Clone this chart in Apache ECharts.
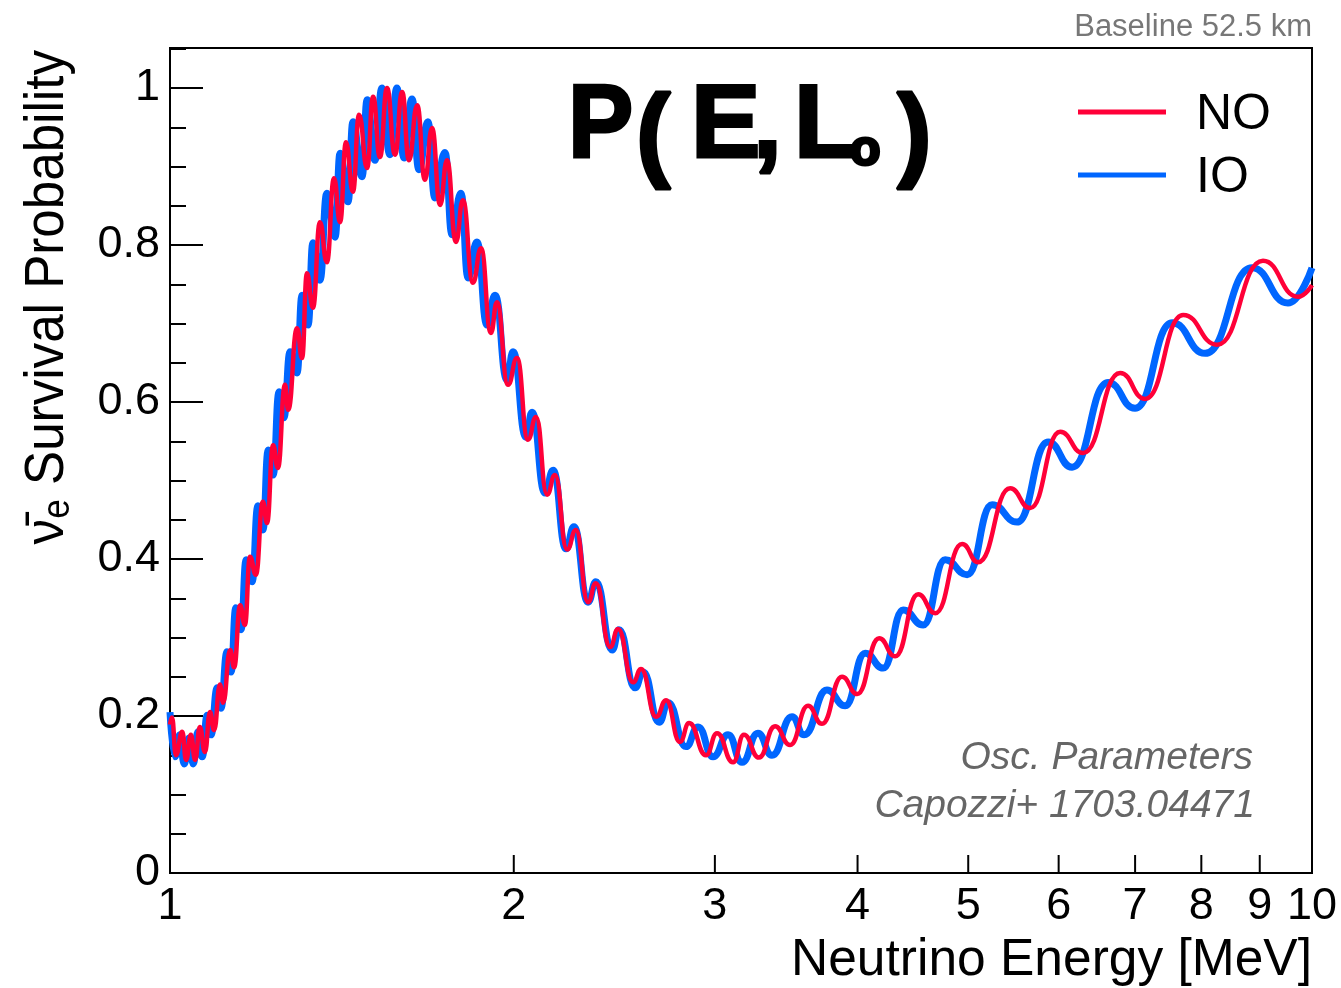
<!DOCTYPE html>
<html>
<head>
<meta charset="utf-8">
<script src="https://cdn.jsdelivr.net/npm/echarts@6/dist/echarts.min.js"></script>
<style>
html,body{margin:0;padding:0;background:#fff}
#chart{width:1341px;height:988px}
</style>
</head>
<body>
<div id="chart"></div>
<script>
// energy [MeV] and survival probability (peaks and dips)
const energyNO = [1.000,1.004,1.012,1.025,1.033,1.043,1.052,1.062,1.073,1.084,
  1.093,1.106,1.113,1.129,1.138,1.152,1.163,1.175,1.189,1.206,
  1.216,1.231,1.243,1.261,1.269,1.292,1.305,1.318,1.334,1.353,
  1.372,1.392,1.409,1.426,1.446,1.464,1.488,1.506,1.527,1.549,
  1.574,1.597,1.619,1.646,1.672,1.696,1.724,1.748,1.780,1.805,
  1.842,1.872,1.910,1.933,1.977,2.013,2.058,2.092,2.139,2.173,
  2.227,2.267,2.323,2.360,2.429,2.468,2.544,2.585,2.665,2.719,
  2.796,2.848,2.947,3.013,3.112,3.181,3.279,3.387,3.491,3.620,
  3.723,3.877,3.997,4.178,4.315,4.520,4.678,4.939,5.101,5.441,
  5.665,6.018,6.303,6.792,7.143,7.712,8.259,9.059,9.721,10.0]
const probNO = [0.189,0.198,0.150,0.180,0.144,0.176,0.144,0.186,0.154,0.205,
  0.182,0.240,0.217,0.284,0.262,0.341,0.316,0.403,0.380,0.473,
  0.446,0.545,0.516,0.622,0.590,0.694,0.656,0.764,0.720,0.829,
  0.778,0.885,0.829,0.931,0.868,0.966,0.898,0.989,0.912,1.000,
  0.915,0.995,0.908,0.978,0.883,0.949,0.851,0.908,0.804,0.857,
  0.752,0.796,0.688,0.727,0.622,0.656,0.552,0.581,0.482,0.507,
  0.412,0.437,0.345,0.369,0.288,0.311,0.243,0.260,0.199,0.220,
  0.167,0.191,0.150,0.178,0.141,0.176,0.147,0.187,0.163,0.213,
  0.190,0.250,0.228,0.299,0.276,0.355,0.331,0.419,0.396,0.490,
  0.465,0.562,0.535,0.637,0.604,0.711,0.673,0.780,0.734,0.749]

const energyIO = [1.000,1.010,1.020,1.029,1.039,1.048,1.058,1.067,1.078,1.086,
  1.100,1.108,1.122,1.131,1.142,1.154,1.166,1.180,1.194,1.206,
  1.219,1.231,1.246,1.258,1.274,1.292,1.305,1.321,1.334,1.353,
  1.372,1.395,1.409,1.432,1.446,1.473,1.488,1.512,1.533,1.558,
  1.580,1.603,1.629,1.652,1.682,1.706,1.741,1.766,1.798,1.824,
  1.857,1.895,1.926,1.973,1.997,2.050,2.075,2.130,2.165,2.222,
  2.258,2.323,2.360,2.439,2.473,2.554,2.596,2.681,2.730,2.830,
  2.900,2.989,3.081,3.169,3.272,3.366,3.505,3.591,3.761,3.901,
  4.062,4.212,4.385,4.566,4.773,4.989,5.247,5.518,5.874,6.165,
  6.629,7.000,7.543,8.062,8.860,9.527,10.0]
const probIO = [0.205,0.148,0.176,0.139,0.172,0.139,0.180,0.148,0.201,0.176,
  0.236,0.210,0.282,0.256,0.338,0.310,0.399,0.371,0.468,0.437,
  0.539,0.507,0.613,0.580,0.664,0.637,0.736,0.698,0.803,0.755,
  0.866,0.810,0.917,0.855,0.957,0.887,0.985,0.908,1.000,0.915,
  1.000,0.911,0.986,0.896,0.957,0.860,0.918,0.813,0.866,0.758,
  0.804,0.698,0.736,0.628,0.664,0.555,0.587,0.484,0.513,0.413,
  0.441,0.345,0.371,0.284,0.310,0.236,0.256,0.192,0.217,0.161,
  0.186,0.148,0.176,0.141,0.178,0.150,0.199,0.176,0.233,0.213,
  0.280,0.261,0.335,0.316,0.399,0.380,0.469,0.447,0.549,0.517,
  0.625,0.592,0.701,0.662,0.771,0.726,0.771]

const xTickValues = [1,2,3,4,5,6,7,8,9,10]
const yMax = 1.051

const RED = '#ff0038'
const BLUE = '#0066ff'
const FONT = 'Liberation Sans'

const chart = echarts.init(document.getElementById('chart'), null, {renderer:'canvas'})

const option = {
  animation: false,
  backgroundColor: '#fff',
  grid: {
    left: 170, right: 29, top: 48, bottom: 115,
    show: true, borderColor: '#000', borderWidth: 2, backgroundColor: 'transparent'
  },
  xAxis: {
    type: 'log', logBase: 10, min: 1, max: 10,
    axisLine: {lineStyle: {color: '#000', width: 2}},
    axisTick: {show: false},
    axisLabel: {show: false},
    splitLine: {show: false}
  },
  yAxis: [
    {
      type: 'value', min: 0, max: yMax, interval: 0.2,
      axisLine: {show: true, lineStyle: {color: '#000', width: 2}},
      axisTick: {inside: true, length: 33, lineStyle: {color: '#000', width: 2}},
      splitLine: {show: false},
      axisLabel: {fontSize: 45, color: '#000', fontFamily: FONT, margin: 10, showMaxLabel: false}
    },
    {
      // small ticks every 0.05
      type: 'value', min: 0, max: yMax, interval: 0.05, position: 'left',
      axisLine: {show: false},
      axisTick: {inside: true, length: 16, lineStyle: {color: '#000', width: 2}},
      splitLine: {show: false},
      axisLabel: {show: false}
    }
  ],
  series: [
    {
      name: 'IO', type: 'line', z: 2,
      data: energyIO.map((e,i)=>[e, probIO[i]]),
      smooth: 0.5, smoothMonotone: 'x', showSymbol: false,
      lineStyle: {color: BLUE, width: 7}, itemStyle: {color: BLUE}
    },
    {
      name: 'NO', type: 'line', z: 3,
      data: energyNO.map((e,i)=>[e, probNO[i]]),
      smooth: 0.5, smoothMonotone: 'x', showSymbol: false,
      lineStyle: {color: RED, width: 4.5}, itemStyle: {color: RED}
    }
  ]
}
chart.setOption(option)

// ticks and labels at 1..10 on the log axis
const y0 = chart.convertToPixel({yAxisIndex: 0}, 0)
const graphics = []
xTickValues.forEach(v=>{
  const x = chart.convertToPixel({xAxisIndex: 0}, v)
  if (v !== 1 && v !== 10) {
    graphics.push({type: 'line', shape: {x1: x, y1: y0, x2: x, y2: y0 - 18},
      style: {stroke: '#000', lineWidth: 2}, z: 10})
  }
  graphics.push({type: 'text', x: x, y: y0 + 34, z: 10,
    style: {text: String(v), font: `45px "${FONT}"`, fill: '#000', align: 'center', verticalAlign: 'middle'}})
})

// legend
;[['NO', RED, 112, 115], ['IO', BLUE, 175, 178]].forEach(([name,color,ly,ty])=>{
  graphics.push({type: 'line', shape: {x1: 1078, y1: ly, x2: 1166, y2: ly},
    style: {stroke: color, lineWidth: 5}, z: 10})
  graphics.push({type: 'text', x: 1196, y: ty, z: 10,
    style: {text: name, font: `50px "${FONT}"`, fill: '#000', align: 'left', verticalAlign: 'middle'}})
})

// axis titles
graphics.push({type: 'text', x: 1312, y: 961, z: 10,
  style: {text: 'Neutrino Energy [MeV]', font: `51.5px "${FONT}"`, fill: '#000', align: 'right', verticalAlign: 'middle'}})
graphics.push({type: 'text', x: 48, y: 50, rotation: Math.PI / 2, scaleX: 0.93, z: 10,
  style: {
    text: '{nu|ν\u0304}{e|e}{t| Survival Probability}',
    align: 'right', verticalAlign: 'middle', fill: '#000',
    rich: {
      nu: {fontSize: 55, fontFamily: FONT},
      e: {fontSize: 38, fontFamily: FONT, padding: [22,0,0,0]},
      t: {fontSize: 55, fontFamily: FONT}
    }
  }})

// big title P(E,Lo)
const titleParts = [['P',568,128,104,0.94],['(',636,138,104,1],['E',691,128,104,1],[',',753,128,104,1],['L',794,128,104,1],['o',850,151,50,1],[')',897,138,104,1]]
titleParts.forEach(([ch,x,y,size,sx])=>{
  graphics.push({type: 'text', x: x, y: y, scaleX: sx, z: 10,
    style: {text: ch, font: `bold ${size}px "${FONT}"`, fill: '#000', stroke: '#000', lineWidth: 3, align: 'left', verticalAlign: 'middle'}})
})

// notes
graphics.push({type: 'text', x: 1312, y: 27, z: 10,
  style: {text: 'Baseline 52.5 km', font: `31px "${FONT}"`, fill: '#777', align: 'right', verticalAlign: 'middle'}})
graphics.push({type: 'text', x: 1253, y: 758, z: 10,
  style: {text: 'Osc. Parameters', font: `italic 39px "${FONT}"`, fill: '#666', align: 'right', verticalAlign: 'middle'}})
graphics.push({type: 'text', x: 1255, y: 806, z: 10,
  style: {text: 'Capozzi+ 1703.04471', font: `italic 39px "${FONT}"`, fill: '#666', align: 'right', verticalAlign: 'middle'}})

chart.setOption({graphic: graphics})
</script>
</body>
</html>
